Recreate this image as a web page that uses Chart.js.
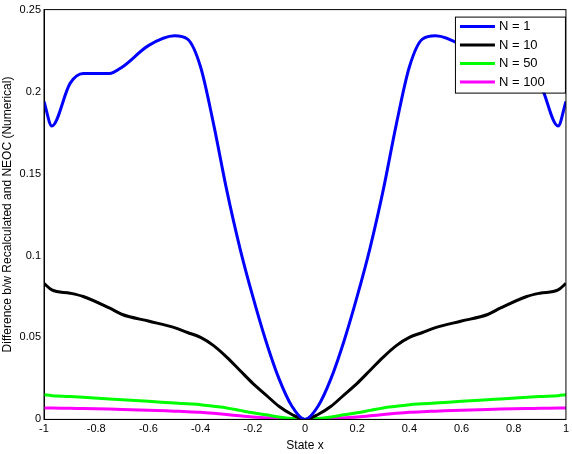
<!DOCTYPE html>
<html><head><script src="https://cdn.jsdelivr.net/npm/chart.js@4"></script>
<style>body{margin:0;background:#fff}#w{width:572px;height:454px}</style></head>
<body><div id="w"><canvas id="c"></canvas></div>
<script>
const xs=[-1,-0.97,-0.9,-0.85,-0.75,-0.7,-0.6,-0.5,-0.45,-0.4,-0.35,-0.3,-0.25,-0.2,-0.15,-0.1,-0.05,0,0.05,0.1,0.15,0.2,0.25,0.3,0.35,0.4,0.45,0.5,0.6,0.7,0.75,0.85,0.9,0.97,1];
const n1=[0.194,0.179,0.205,0.211,0.211,0.215,0.228,0.234,0.232,0.215,0.18,0.14,0.105,0.075,0.048,0.025,0.008,0,0.008,0.025,0.048,0.075,0.105,0.14,0.18,0.215,0.232,0.234,0.228,0.215,0.211,0.211,0.205,0.179,0.194];
const n10=[0.083,0.079,0.077,0.075,0.068,0.064,0.060,0.056,0.053,0.050,0.045,0.038,0.030,0.022,0.015,0.008,0.003,0,0.003,0.008,0.015,0.022,0.030,0.038,0.045,0.050,0.053,0.056,0.060,0.064,0.068,0.075,0.077,0.079,0.083];
const n50=[0.015,0.0145,0.014,0.0135,0.0125,0.012,0.011,0.010,0.0095,0.009,0.008,0.007,0.0055,0.004,0.0028,0.0015,0.0005,0,0.0005,0.0015,0.0028,0.004,0.0055,0.007,0.008,0.009,0.0095,0.010,0.011,0.012,0.0125,0.0135,0.014,0.0145,0.015];
const n100=[0.007,0.007,0.0068,0.0066,0.0063,0.0061,0.0056,0.005,0.0047,0.0043,0.0037,0.003,0.0022,0.0015,0.001,0.0005,0.0001,0,0.0001,0.0005,0.001,0.0015,0.0022,0.003,0.0037,0.0043,0.0047,0.005,0.0056,0.0061,0.0063,0.0066,0.0068,0.007,0.007];
const names=['N = 1','N = 10','N = 50','N = 100'];
const cols=['#0000ff','#000000','#00ff00','#ff00ff'];
const series=[n1,n10,n50,n100];
const F="'Liberation Sans', Arial, sans-serif";
const legendPlugin={id:'lg',afterDraw(ch){const c=ch.ctx,a=ch.chartArea;const w=110,h=76,x=a.right-w-1,y=a.top+7;
c.save();c.fillStyle='#fff';c.fillRect(x,y,w,h);c.strokeStyle='#000';c.lineWidth=1;c.strokeRect(x+0.5,y+0.5,w,h);
c.font='13px '+F;c.textBaseline='middle';names.forEach((n,i)=>{const yy=y+10+i*18.5;c.strokeStyle=cols[i];c.lineWidth=3;c.beginPath();c.moveTo(x+5,yy);c.lineTo(x+40,yy);c.stroke();c.fillStyle='#000';c.fillText(n,x+44,yy);});c.restore();}};
new Chart(document.getElementById('c'),{type:'line',
data:{datasets:series.map((s,i)=>({label:names[i],data:xs.map((x,j)=>({x,y:s[j]})),borderColor:cols[i],borderWidth:3,pointRadius:0,cubicInterpolationMode:'monotone'}))},
options:{animation:false,responsive:true,maintainAspectRatio:false,layout:{padding:{right:-4,top:5,bottom:1}},
plugins:{legend:{display:false},tooltip:{enabled:false}},
scales:{x:{type:'linear',min:-1,max:1,ticks:{stepSize:0.2,color:'#000',font:{family:F,size:11},callback:v=>+v.toFixed(1)+''},grid:{display:false,drawTicks:false},border:{color:'#000'},title:{display:true,text:'State x',color:'#000',font:{family:F,size:12},padding:0}},
y:{min:0,max:0.25,afterFit(s){s.width=44;},ticks:{stepSize:0.05,color:'#000',font:{family:F,size:11},callback:v=>+v.toFixed(2)+''},grid:{display:false,drawTicks:false},border:{color:'#000'},title:{display:true,text:'Difference b/w Recalculated and NEOC (Numerical)',color:'#000',font:{family:F,size:12},padding:0}}}},
plugins:[legendPlugin,{id:'box',afterDraw(ch){const c=ch.ctx,a=ch.chartArea;c.save();c.strokeStyle='#000';c.lineWidth=1;c.strokeRect(a.left,a.top,a.right-a.left,a.bottom-a.top);c.restore();}}]});
</script></body></html>
